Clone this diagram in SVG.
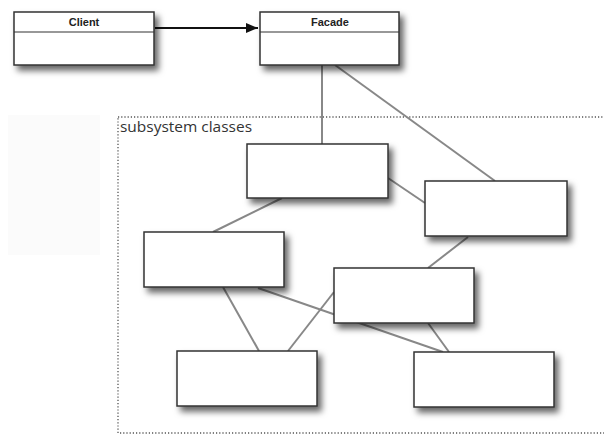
<svg xmlns="http://www.w3.org/2000/svg" width="604" height="439" viewBox="0 0 604 439">
<defs>
<filter id="sh" x="-20%" y="-30%" width="150%" height="180%">
<feDropShadow dx="4" dy="5" stdDeviation="3" flood-color="#000" flood-opacity="0.6"/>
</filter>
<marker id="ah" markerWidth="12" markerHeight="10" refX="12" refY="5" orient="auto" markerUnits="userSpaceOnUse">
<path d="M0,0 L12,5 L0,10 Z" fill="#111"/>
</marker>
</defs>
<style>
.box{fill:#fff;stroke:#333;stroke-width:1.5;filter:url(#sh)}
.div{stroke:#333;stroke-width:1.2}
.lnk{stroke:#888;stroke-width:2;fill:none}
.hd{font-family:"Liberation Sans",Arial,sans-serif;font-weight:bold;font-size:11px;fill:#222;text-anchor:middle}
.lbl{font-family:"Open Sans","DejaVu Sans",sans-serif;font-size:14px;fill:#333}
</style>
<rect width="604" height="439" fill="#fff"/>
<rect x="8" y="115" width="92" height="140" fill="#fbfbfb"/>
<rect x="118" y="117" width="490" height="316" fill="none" stroke="#555" stroke-width="1.3" stroke-dasharray="1.2 2"/>
<text class="lbl" x="120" y="132" textLength="132" lengthAdjust="spacingAndGlyphs">subsystem classes</text>
<g id="connectors">
<line class="lnk" x1="322" y1="65" x2="322" y2="144"/>
<line class="lnk" x1="335" y1="65" x2="495" y2="181"/>
<line class="lnk" x1="388" y1="178" x2="425" y2="203"/>
<line class="lnk" x1="282" y1="198" x2="213" y2="232"/>
<line class="lnk" x1="468" y1="237" x2="428" y2="268"/>
<line class="lnk" x1="223" y1="287" x2="259" y2="351"/>
<line class="lnk" x1="258" y1="288" x2="443" y2="352"/>
<line class="lnk" x1="334" y1="292" x2="288" y2="351"/>
<line class="lnk" x1="428" y1="323" x2="449" y2="352"/>
<line x1="155" y1="28" x2="258" y2="28" stroke="#111" stroke-width="2" marker-end="url(#ah)"/>
</g>
<g id="client">
<rect class="box" x="14" y="12" width="140" height="53"/>
<line class="div" x1="14" y1="32" x2="154" y2="32"/>
<text class="hd" x="84" y="26">Client</text>
</g>
<g id="facade">
<rect class="box" x="260" y="12" width="139" height="53"/>
<line class="div" x1="260" y1="32" x2="399" y2="32"/>
<text class="hd" x="330" y="26">Facade</text>
</g>
<g id="sub1"><rect class="box" x="247" y="144" width="141" height="54"/></g>
<g id="sub2"><rect class="box" x="425" y="181" width="142" height="55"/></g>
<g id="sub3"><rect class="box" x="144" y="232" width="140" height="55"/></g>
<g id="sub4"><rect class="box" x="334" y="268" width="140" height="55"/></g>
<g id="sub5"><rect class="box" x="177" y="351" width="140" height="55"/></g>
<g id="sub6"><rect class="box" x="414" y="352" width="140" height="55"/></g>
</svg>
